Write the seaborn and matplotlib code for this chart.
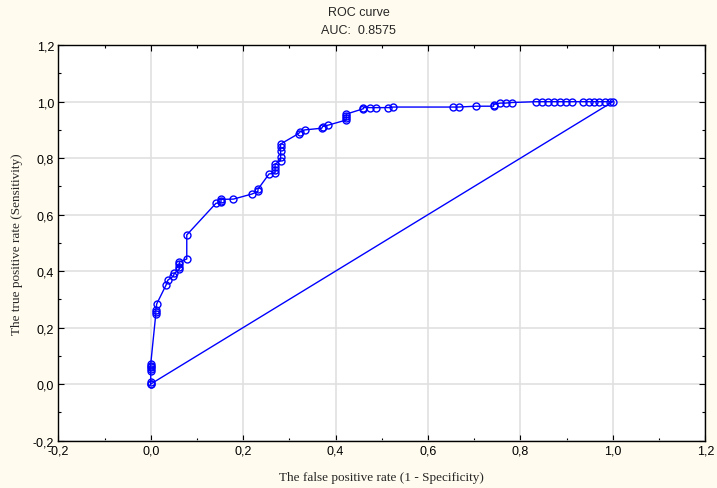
import matplotlib
matplotlib.use("Agg")
import matplotlib.pyplot as plt
import seaborn as sns
import pandas as pd
from matplotlib.ticker import MultipleLocator, FuncFormatter

fpr = [0.0, 0.0, 0.0, 0.0, 0.0, 0.0, 0.0,
       0.011, 0.011, 0.011, 0.013, 0.033, 0.037, 0.049, 0.051,
       0.062, 0.062, 0.062, 0.062, 0.078, 0.078,
       0.141, 0.152, 0.152, 0.152, 0.179, 0.219, 0.232, 0.232,
       0.256, 0.269, 0.269, 0.269, 0.269,
       0.281, 0.281, 0.281, 0.281, 0.281,
       0.320, 0.322, 0.333, 0.370, 0.372, 0.384,
       0.423, 0.423, 0.423, 0.423,
       0.460, 0.460, 0.475, 0.487, 0.514, 0.525,
       0.655, 0.666, 0.704, 0.742, 0.742, 0.756, 0.768, 0.781,
       0.834, 0.847, 0.860, 0.873, 0.886, 0.899, 0.912,
       0.936, 0.948, 0.959, 0.971, 0.982, 0.994, 1.0,
       0.0]
tpr = [0.0, 0.006, 0.045, 0.053, 0.059, 0.065, 0.071,
       0.248, 0.255, 0.263, 0.284, 0.350, 0.368, 0.382, 0.392,
       0.407, 0.415, 0.424, 0.432, 0.443, 0.528,
       0.640, 0.643, 0.648, 0.654, 0.655, 0.673, 0.682, 0.690,
       0.744, 0.748, 0.757, 0.767, 0.779,
       0.791, 0.803, 0.826, 0.838, 0.850,
       0.887, 0.892, 0.900, 0.906, 0.912, 0.917,
       0.935, 0.942, 0.950, 0.956,
       0.975, 0.979, 0.979, 0.979, 0.979, 0.981,
       0.981, 0.981, 0.984, 0.984, 0.990, 0.995, 0.995, 0.997,
       1.0, 1.0, 1.0, 1.0, 1.0, 1.0, 1.0,
       1.0, 1.0, 1.0, 1.0, 1.0, 1.0, 1.0,
       0.0]

title_lines = ["ROC curve", "AUC:  0.8575"]
x_label = "The false positive rate (1 - Specificity)"
y_label = "The true positive rate (Sensitivity)"

sns.set_style("white")
plt.rcParams['font.family'] = ['Liberation Sans', 'DejaVu Sans']

bg = '#FFFBEE'
fig = plt.figure(figsize=(7.17, 4.89), dpi=100, facecolor=bg)
ax = fig.add_axes([0.0813, 0.0971, 0.9024, 0.8084])
ax.set_facecolor('white')

df = pd.DataFrame({"fpr": fpr, "tpr": tpr})
sns.lineplot(data=df, x="fpr", y="tpr", sort=False, estimator=None, ax=ax,
             color='#0000FF', lw=1.0, marker='o', markersize=5.0,
             markerfacecolor='none', markeredgecolor='#0000FF', markeredgewidth=1.0,
             zorder=3)

ax.set_xlim(-0.2, 1.2)
ax.set_ylim(-0.2, 1.2)
ax.xaxis.set_major_locator(MultipleLocator(0.2))
ax.yaxis.set_major_locator(MultipleLocator(0.2))
ax.xaxis.set_minor_locator(MultipleLocator(0.1))
ax.yaxis.set_minor_locator(MultipleLocator(0.1))
fmt = FuncFormatter(lambda v, p: f"{v:.1f}".replace('.', ',').replace('-0,0', '0,0'))
ax.xaxis.set_major_formatter(fmt)
ax.yaxis.set_major_formatter(fmt)
ax.tick_params(which='both', direction='in', top=True, right=True, bottom=True, left=True,
               color='black', labelsize=9, labelcolor='black')
ax.tick_params(which='major', length=4, width=0.8, pad=3)
ax.tick_params(which='minor', length=2.5, width=0.8)
ax.grid(True, which='major', color='#E0E0E0', lw=1.2, zorder=0)
ax.set_axisbelow(True)
for s in ax.spines.values():
    s.set_color('black')
    s.set_linewidth(1.0)
    s.set_visible(True)

ax.set_xlabel(x_label, family='Liberation Serif', fontsize=9.5, labelpad=10)
ax.set_ylabel(y_label, family='Liberation Serif', fontsize=9.5, labelpad=7)

fig.text(0.5, 1 - 13/489, title_lines[0], ha='center', va='center', fontsize=9)
fig.text(0.5, 1 - 31/489, title_lines[1], ha='center', va='center', fontsize=9)

fig.savefig("out.png", dpi=100, facecolor=bg)
